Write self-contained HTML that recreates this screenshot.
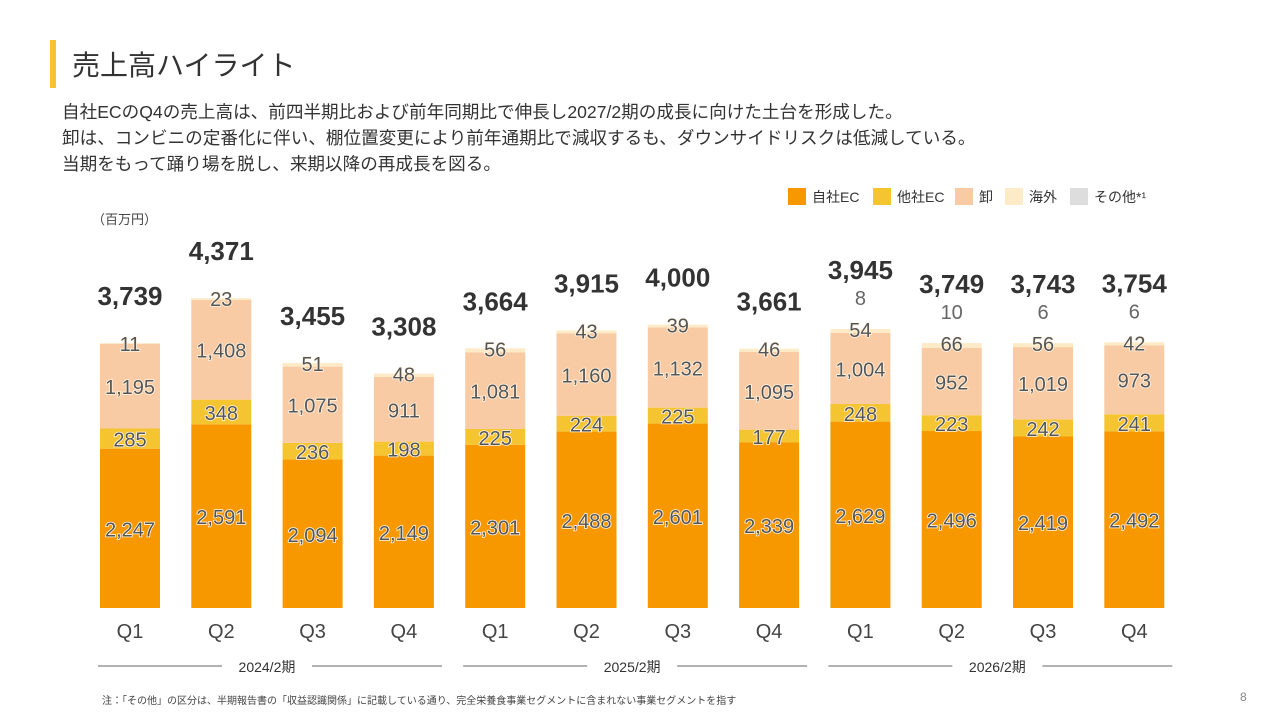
<!DOCTYPE html>
<html><head><meta charset="utf-8">
<style>
body{margin:0;width:1280px;height:720px;background:#fff;font-family:"Liberation Sans","Noto Sans CJK JP",sans-serif;overflow:hidden;position:relative}
.bar-accent{position:absolute;left:50px;top:40px;width:6px;height:48px;background:#F5C431}
h1{position:absolute;left:72px;top:44px;margin:0;font-size:28px;font-weight:normal;color:#333}
.desc{position:absolute;left:62px;top:99px;font-size:17.6px;line-height:26px;color:#333}
.note{position:absolute;left:102px;top:692px;font-size:10px;color:#444}
.pg{position:absolute;left:1240px;top:690px;font-size:12px;color:#888}
</style></head><body>
<div class="bar-accent"></div>
<h1>売上高ハイライト</h1>
<div class="desc">自社ECのQ4の売上高は、前四半期比および前年同期比で伸長し2027/2期の成長に向けた土台を形成した。<br>卸は、コンビニの定番化に伴い、棚位置変更により前年通期比で減収するも、ダウンサイドリスクは低減している。<br>当期をもって踊り場を脱し、来期以降の再成長を図る。</div>
<svg id="chart" width="1280" height="720" style="position:absolute;left:0;top:0"></svg>
<div class="note">注：「その他」の区分は、半期報告書の「収益認識関係」に記載している通り、完全栄養食事業セグメントに含まれない事業セグメントを指す</div>
<div class="pg">8</div>
<script>
const quarters=["Q1","Q2","Q3","Q4","Q1","Q2","Q3","Q4","Q1","Q2","Q3","Q4"];
const years=["2024/2期","2025/2期","2026/2期"];
const ownEC=[2247,2591,2094,2149,2301,2488,2601,2339,2629,2496,2419,2492];
const otherEC=[285,348,236,198,225,224,225,177,248,223,242,241];
const wholesale=[1195,1408,1075,911,1081,1160,1132,1095,1004,952,1019,973];
const overseas=[11,23,51,48,56,43,39,46,54,66,56,42];
const others=[0,0,0,0,0,0,0,0,8,10,6,6];
const totals=[3739,4371,3455,3308,3664,3915,4000,3661,3945,3749,3743,3754];
const seriesNames=["自社EC","他社EC","卸","海外","その他*¹"];
const colors=["#F79800","#F5C431","#F8CBA4","#FDEBC8","#DDDDDD"];
const NS="http://www.w3.org/2000/svg";
const svg=document.getElementById('chart');
const base=608,scale=0.0709,x0=130,step=91.3,bw=60;
const xc=i=>x0+i*step;
const yv=v=>base-v*scale;
function mk(t,a,txt){const e=document.createElementNS(NS,t);for(const k in a)e.setAttribute(k,a[k]);if(txt!==undefined)e.textContent=txt;svg.appendChild(e);return e;}
const fmt=v=>v.toLocaleString('en-US');
let u=mk('text',{x:92,y:224,'font-size':13,fill:'#444'},'（百万円）');

const lx=[788,873,955,1005,1070];
seriesNames.forEach((n,i)=>{
 let r=mk('rect',{x:lx[i],y:188,width:18,height:17,fill:colors[i]});
 
 let t=mk('text',{x:lx[i]+24,y:202,'font-size':14,fill:'#333'},n);
 
});
const segs=[ownEC,otherEC,wholesale,overseas];
quarters.forEach((q,i)=>{
 let acc=0;const x=xc(i)-bw/2;
 segs.forEach((s,k)=>{
  const v=s[i];const y1=yv(acc),y2=yv(acc+v);
  let r=mk('rect',{x:x,y:y2,width:bw,height:y1-y2,fill:colors[k]});
  
  acc+=v;
  let ly=k==3?y2+8:(y1+y2)/2+8;
  let t=mk('text',{x:xc(i),y:ly,'text-anchor':'middle','font-size':20,fill:'#555',stroke:'#FFF6E6','stroke-width':1.6,'paint-order':'stroke'},fmt(v));
  
 });
 let top=yv(acc);
 if(others[i]>0){
  let t=mk('text',{x:xc(i),y:top-24,'text-anchor':'middle','font-size':20,fill:'#666'},others[i]);
  
 }
 let ty=top-(others[i]>0?50:38);
 let t=mk('text',{x:xc(i),y:ty,'text-anchor':'middle','font-size':26,'font-weight':'bold',fill:'#333'},fmt(totals[i]));
 
 let ql=mk('text',{x:xc(i),y:638,'text-anchor':'middle','font-size':20,fill:'#444'},q);
 
});
years.forEach((y,j)=>{
 const c=xc(j*4+1.5);
 let t=mk('text',{x:c,y:672,'text-anchor':'middle','font-size':14,fill:'#333'},y);
 
 let l1=mk('line',{x1:xc(j*4)-32,x2:c-45,y1:666,y2:666,stroke:'#666'});
 
 let l2=mk('line',{x1:c+45,x2:xc(j*4+3)+38,y1:666,y2:666,stroke:'#666'});
 
});
</script>
</body></html>
